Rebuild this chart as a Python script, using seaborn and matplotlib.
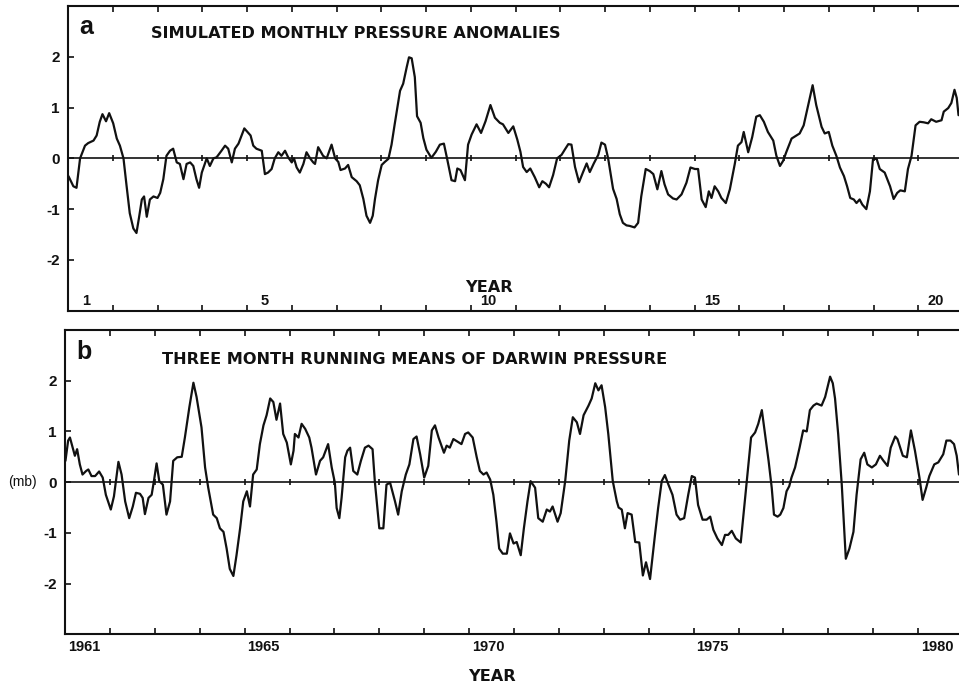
import matplotlib
matplotlib.use("Agg")
import matplotlib.pyplot as plt
import numpy as np
import pandas as pd
import seaborn as sns

# ---------------------------------------------------------------- data
# (a) simulated monthly pressure anomalies: time in model years, anomaly in mb
sim_t = [0.01, 0.12, 0.19, 0.27, 0.38, 0.45, 0.57, 0.64, 0.71, 0.77, 0.85, 0.92,
         1.01, 1.09, 1.16, 1.24, 1.31, 1.38, 1.46, 1.53, 1.59, 1.65, 1.70, 1.76,
         1.83, 1.91, 2.00, 2.06, 2.13, 2.20, 2.28, 2.35, 2.43, 2.50, 2.58, 2.65,
         2.73, 2.80, 2.87, 2.93, 2.99, 3.10, 3.17, 3.25, 3.32, 3.43, 3.51, 3.58,
         3.66, 3.73, 3.81, 3.88, 3.94, 4.01, 4.08, 4.14, 4.21, 4.33, 4.40, 4.47,
         4.55, 4.62, 4.70, 4.77, 4.85, 4.92, 5.00, 5.05, 5.11, 5.18, 5.26, 5.33,
         5.41, 5.48, 5.52, 5.59,
         5.70, 5.78, 5.89, 5.97, 6.04, 6.09, 6.19, 6.26, 6.34, 6.45, 6.52, 6.60,
         6.67, 6.75, 6.81, 6.86, 6.93, 7.01, 7.08, 7.16, 7.23, 7.30, 7.42, 7.49,
         7.57, 7.62, 7.68, 7.75, 7.80, 7.88, 7.94, 8.01, 8.12, 8.22, 8.31, 8.40,
         8.47, 8.57, 8.65, 8.70, 8.77, 8.87, 8.94, 9.02, 9.13, 9.23, 9.33, 9.44,
         9.54, 9.65, 9.72, 9.84, 9.95, 10.04, 10.11, 10.17, 10.25, 10.33, 10.43,
         10.53, 10.60, 10.68, 10.75, 10.84, 10.93, 11.03, 11.10, 11.18, 11.25,
         11.33, 11.42, 11.51, 11.59, 11.66, 11.75, 11.85, 11.92, 12.00, 12.07,
         12.18, 12.26, 12.33, 12.40, 12.48, 12.55, 12.66, 12.74, 12.81, 12.91,
         13.00, 13.08, 13.17, 13.26, 13.33, 13.41, 13.52, 13.60, 13.71, 13.82,
         13.91, 14.01, 14.08, 14.16, 14.25, 14.32, 14.38, 14.45, 14.53, 14.60,
         14.70, 14.79, 14.90, 14.97, 15.05, 15.10, 15.20, 15.29, 15.38, 15.46,
         15.55, 15.64, 15.76, 15.83, 15.91, 15.98, 16.05, 16.17, 16.26, 16.35,
         16.44, 16.54, 16.64, 16.72, 16.84, 16.91, 17.00, 17.08, 17.17, 17.25,
         17.34, 17.41, 17.48, 17.56, 17.62, 17.69, 17.75, 17.84, 17.92, 17.99,
         18.07, 18.14, 18.25, 18.37, 18.45, 18.53, 18.60, 18.70, 18.77, 18.85,
         18.94, 19.03, 19.12, 19.22, 19.29, 19.40, 19.52, 19.57, 19.67, 19.74,
         19.81, 19.86, 19.90]
sim_p = [-0.35, -0.55, -0.58, 0.00, 0.25, 0.30, 0.35, 0.45, 0.72, 0.87, 0.73, 0.89,
         0.69, 0.39, 0.25, 0.00, -0.55, -1.08, -1.38, -1.47, -1.15, -0.81, -0.75, -1.15,
         -0.81, -0.75, -0.78, -0.68, -0.41, 0.05, 0.15, 0.19, -0.08, -0.11, -0.41, -0.11,
         -0.08, -0.15, -0.41, -0.58, -0.28, 0.00, -0.15, 0.00, 0.02, 0.15, 0.25, 0.19,
         -0.08, 0.19, 0.29, 0.45, 0.59, 0.52, 0.45, 0.25, 0.19, 0.15, -0.31, -0.28,
         -0.21, 0.00, 0.12, 0.05, 0.15, 0.02, -0.08, 0.00, -0.18, -0.28, -0.11, 0.12,
         0.00, -0.08, -0.11, 0.22,
         0.05, 0.00, 0.27, 0.00, -0.07, -0.23, -0.20, -0.13, -0.37, -0.45, -0.53, -0.80,
         -1.13, -1.27, -1.13, -0.80, -0.43, -0.13, -0.07, -0.01, 0.27, 0.67, 1.33, 1.47,
         1.80, 1.99, 1.97, 1.60, 0.83, 0.70, 0.40, 0.17, 0.01, 0.13, 0.27, 0.29,
         0.00, -0.43, -0.45, -0.20, -0.23, -0.43, 0.27, 0.47, 0.67, 0.50, 0.73, 1.05,
         0.80, 0.70, 0.67, 0.50, 0.63, 0.37, 0.13, -0.17, -0.27, -0.20, -0.37,
         -0.57, -0.45, -0.50, -0.57, -0.33, 0.00, 0.07, 0.17, 0.28, 0.27,
         -0.17, -0.47, -0.27, -0.10, -0.27, -0.10, 0.07, 0.31, 0.27, 0.00,
         -0.60, -0.80, -1.10, -1.27, -1.32, -1.33, -1.36, -1.27, -0.75, -0.21,
         -0.25, -0.31, -0.61, -0.25, -0.51, -0.71, -0.79, -0.81, -0.71, -0.48,
         -0.18, -0.21, -0.21, -0.81, -0.96, -0.65, -0.78, -0.55, -0.65, -0.78,
         -0.88, -0.61, -0.11, 0.25, 0.32, 0.52, 0.12, 0.42, 0.82, 0.85,
         0.72, 0.52, 0.35, 0.05, -0.15, -0.05, 0.12, 0.39, 0.44, 0.49,
         0.65, 1.05, 1.44, 1.05, 0.62, 0.49, 0.52, 0.25, 0.05, -0.18,
         -0.35, -0.55, -0.78, -0.81, -0.88, -0.81, -0.91, -1.00, -0.65, -0.01,
         -0.01, -0.21, -0.28, -0.55, -0.80, -0.68, -0.63, -0.65, -0.21, 0.05,
         0.65, 0.72, 0.71, 0.69, 0.77, 0.72, 0.75, 0.92, 0.99, 1.09,
         1.35, 1.19, 0.85]
sim_year_labels = ["1", "5", "10", "15", "20"]

# (b) three-month running means of Darwin pressure: years since Jan 1961, mb
darwin_start = 1961
darwin_t = [0.01, 0.07, 0.11, 0.17, 0.22, 0.27, 0.33, 0.39, 0.47, 0.52, 0.59, 0.67,
            0.76, 0.84, 0.91, 1.02, 1.09, 1.19, 1.26, 1.34, 1.43, 1.51, 1.58, 1.67,
            1.73, 1.78, 1.86, 1.93, 1.98, 2.04, 2.10, 2.18, 2.26, 2.34, 2.41, 2.50,
            2.60, 2.67, 2.77, 2.86, 2.93, 3.04, 3.12, 3.19, 3.30, 3.38, 3.45, 3.53,
            3.60, 3.67, 3.75, 3.82, 3.90, 3.97, 4.05, 4.12, 4.19, 4.27, 4.34, 4.42,
            4.49, 4.57, 4.64, 4.71, 4.79, 4.86, 4.94, 5.03, 5.09, 5.12, 5.20, 5.27,
            5.35, 5.44, 5.49, 5.59, 5.68,
            5.75, 5.86, 5.94, 6.01, 6.05, 6.11, 6.16, 6.24, 6.29, 6.35, 6.42, 6.51,
            6.59, 6.68, 6.76, 6.85, 6.90, 7.00, 7.09, 7.16, 7.24, 7.35, 7.42, 7.50,
            7.59, 7.67, 7.76, 7.83, 7.91, 8.00, 8.09, 8.17, 8.24, 8.32, 8.44, 8.50,
            8.57, 8.65, 8.74, 8.83, 8.91, 8.98, 9.08, 9.17, 9.24, 9.32, 9.39, 9.47,
            9.54, 9.61, 9.67, 9.75, 9.84, 9.91, 9.99, 10.06, 10.15, 10.22, 10.30,
            10.37, 10.47, 10.54, 10.64, 10.73, 10.80, 10.86, 10.97, 11.04, 11.14,
            11.23, 11.31, 11.40, 11.47, 11.55, 11.66, 11.73, 11.81, 11.88, 11.95,
            12.03, 12.10, 12.20, 12.29, 12.33, 12.40, 12.47, 12.53, 12.62, 12.70,
            12.79, 12.87, 12.94, 13.03,
            13.14, 13.21, 13.29, 13.36, 13.44, 13.53, 13.62, 13.70, 13.79, 13.88,
            13.96, 14.03, 14.10, 14.20, 14.29, 14.37, 14.44, 14.53, 14.63, 14.70,
            14.77, 14.85, 14.94, 15.05, 15.14, 15.20, 15.28, 15.37, 15.44, 15.52,
            15.59, 15.67, 15.74, 15.79, 15.87, 15.93, 16.00, 16.07, 16.13, 16.18,
            16.26, 16.36, 16.44, 16.52, 16.59, 16.67, 16.74, 16.85, 16.93, 17.04,
            17.10, 17.15, 17.22, 17.30, 17.39, 17.47, 17.56, 17.63, 17.72, 17.80,
            17.87, 17.97, 18.06, 18.15, 18.23, 18.32, 18.39, 18.49, 18.54, 18.66,
            18.75, 18.84, 18.93, 19.03, 19.10, 19.18, 19.25, 19.36, 19.45, 19.56,
            19.63, 19.72, 19.80, 19.86, 19.91]
darwin_p = [0.42, 0.82, 0.88, 0.68, 0.52, 0.65, 0.35, 0.15, 0.22, 0.25, 0.12, 0.12,
            0.21, 0.09, -0.25, -0.54, -0.28, 0.40, 0.15, -0.38, -0.71, -0.48, -0.21, -0.23,
            -0.31, -0.63, -0.31, -0.25, 0.02, 0.37, 0.02, -0.05, -0.64, -0.38, 0.42, 0.49,
            0.50, 0.88, 1.48, 1.96, 1.68, 1.08, 0.29, -0.11, -0.64, -0.71, -0.91, -0.98,
            -1.31, -1.71, -1.85, -1.44, -0.91, -0.38, -0.18, -0.48, 0.15, 0.25, 0.75, 1.12,
            1.32, 1.65, 1.58, 1.23, 1.55, 0.95, 0.78, 0.35, 0.62, 0.95, 0.88, 1.15,
            1.05, 0.88, 0.68, 0.15, 0.42,
            0.49, 0.75, 0.29, -0.01, -0.51, -0.71, -0.31, 0.49, 0.62, 0.68, 0.22, 0.15,
            0.42, 0.68, 0.72, 0.65, 0.02, -0.91, -0.91, -0.05, -0.01, -0.38, -0.64, -0.18,
            0.15, 0.35, 0.85, 0.90, 0.55, 0.09, 0.32, 1.02, 1.12, 0.88, 0.58, 0.72,
            0.68, 0.85, 0.80, 0.75, 0.95, 0.98, 0.88, 0.49, 0.22, 0.15, 0.19, 0.05,
            -0.25, -0.78, -1.31, -1.41, -1.41, -1.01, -1.21, -1.18, -1.44, -0.91, -0.38,
            0.02, -0.11, -0.71, -0.78, -0.54, -0.58, -0.48, -0.78, -0.61, 0.02,
            0.82, 1.28, 1.18, 0.95, 1.32, 1.51, 1.65, 1.95, 1.81, 1.91,
            1.48, 0.95, 0.02, -0.38, -0.50, -0.54, -0.91, -0.61, -0.64, -1.18,
            -1.19, -1.84, -1.58, -1.91,
            -1.04, -0.51, 0.02, 0.14, -0.05, -0.25, -0.64, -0.74, -0.71, -0.25,
            0.12, 0.09, -0.45, -0.74, -0.74, -0.68, -0.94, -1.11, -1.24, -1.04,
            -1.04, -0.96, -1.11, -1.19, -0.38, 0.15, 0.88, 0.98, 1.15, 1.42,
            0.95, 0.42, -0.11, -0.64, -0.68, -0.64, -0.51, -0.18, -0.08, 0.09,
            0.29, 0.68, 1.02, 1.00, 1.42, 1.51, 1.55, 1.51, 1.68, 2.08,
            1.95, 1.65, 0.95, -0.05, -1.51, -1.31, -0.98, -0.25, 0.45, 0.58,
            0.35, 0.29, 0.35, 0.52, 0.42, 0.32, 0.68, 0.90, 0.85, 0.52,
            0.49, 1.02, 0.62, 0.09, -0.35, -0.11, 0.12, 0.35, 0.39, 0.55,
            0.82, 0.82, 0.75, 0.52, 0.15]
darwin_year_labels = ["1961", "1965", "1970", "1975", "1980"]

y_ticks = [-2, -1, 0, 1, 2]
y_tick_labels = ["-2", "-1", "0", "1", "2"]

sim_df = pd.DataFrame({"year": sim_t, "anomaly": sim_p})
darwin_df = pd.DataFrame({"year": np.array(darwin_t) + darwin_start,
                          "pressure": darwin_p})

# ---------------------------------------------------------------- style
sns.set_style("white")
plt.rcParams["font.family"] = ["Liberation Sans", "DejaVu Sans"]
plt.rcParams["axes.unicode_minus"] = False

INK = "#111111"
W, H = 959, 688
fig = plt.figure(figsize=(W / 100, H / 100), dpi=100)
fig.patch.set_facecolor("white")

# axes run slightly past the right edge of the page
ax_a = fig.add_axes([68 / W, 1 - 310.7 / H, 895 / W, 304.7 / H])
ax_b = fig.add_axes([65 / W, 1 - 634.3 / H, 898 / W, 304.3 / H])

title_font = dict(family="DejaVu Sans", weight="bold", size=11.6, color=INK)
letter_font = dict(family="Liberation Sans", weight="bold", size=18, color=INK)


def frame(ax, x0, x1):
    ax.set_xlim(x0, x1)
    ax.set_ylim(-3, 3)
    for side in ("left", "top", "bottom", "right"):
        ax.spines[side].set_visible(True)
        ax.spines[side].set_color(INK)
        ax.spines[side].set_linewidth(1.5)
    ax.axhline(0, color=INK, lw=1.2, zorder=2)
    yrs = np.arange(x0 + 1, x1)
    ax.plot(yrs, np.zeros_like(yrs, dtype=float), ls="none", marker="|",
            ms=4, mew=1.2, color=INK, zorder=2)
    ax.set_xticks(yrs)
    ax.tick_params(axis="x", which="major", direction="in", length=4, width=1.2,
                   top=True, bottom=True, labelbottom=False, color=INK)
    ax.set_yticks(y_ticks, y_tick_labels)
    ax.tick_params(axis="y", direction="in", length=4, width=1.2, left=True,
                   right=False, pad=6, labelsize=11, labelcolor=INK, color=INK)
    for lab in ax.get_yticklabels():
        lab.set_fontweight("bold")
    ax.set_xlabel("")
    ax.set_ylabel("")


# ---- panel a
sns.lineplot(data=sim_df, x="year", y="anomaly", ax=ax_a, color=INK, lw=1.6,
             estimator=None, sort=False, zorder=3)
frame(ax_a, 0, 20)
ax_a.set_xticks([int(s) - 0.6 for s in sim_year_labels], sim_year_labels, minor=True)
ax_a.tick_params(axis="x", which="minor", length=0, pad=-12.2, labelsize=10.5,
                 labelcolor=INK)
for lab in ax_a.get_xticklabels(minor=True):
    lab.set_fontweight("bold")
ax_a.text(9.4, 23.5 / 304.7, "YEAR", transform=ax_a.get_xaxis_transform(),
          ha="center", va="center", **title_font)
ax_a.text(0.41, 1 - 21 / 304.7, "a", transform=ax_a.get_xaxis_transform(),
          ha="center", va="center", **letter_font)
ax_a.text(1.85, 1 - 28 / 304.7, "SIMULATED MONTHLY PRESSURE ANOMALIES",
          transform=ax_a.get_xaxis_transform(), ha="left", va="center", **title_font)

# ---- panel b
sns.lineplot(data=darwin_df, x="year", y="pressure", ax=ax_b, color=INK, lw=1.6,
             estimator=None, sort=False, zorder=3)
frame(ax_b, darwin_start, darwin_start + 20)
ax_b.set_xticks([int(s) + 0.42 for s in darwin_year_labels], darwin_year_labels,
                minor=True)
ax_b.tick_params(axis="x", which="minor", length=0, pad=4, labelsize=10.5,
                 labelcolor=INK)
for lab in ax_b.get_xticklabels(minor=True):
    lab.set_fontweight("bold")
ax_b.text(darwin_start + 9.5, -42 / 304.3, "YEAR", transform=ax_b.get_xaxis_transform(),
          ha="center", va="center", **title_font)
ax_b.text(darwin_start + 0.43, 1 - 22 / 304.3, "b", transform=ax_b.get_xaxis_transform(),
          ha="center", va="center", **letter_font)
ax_b.text(darwin_start + 2.16, 1 - 30 / 304.3,
          "THREE MONTH RUNNING MEANS OF DARWIN PRESSURE",
          transform=ax_b.get_xaxis_transform(), ha="left", va="center", **title_font)
ax_b.text(-42.5 / 898, 0.5, "(mb)", transform=ax_b.transAxes, ha="center",
          va="center", fontsize=10, color=INK)

fig.savefig("out.png", dpi=100)
